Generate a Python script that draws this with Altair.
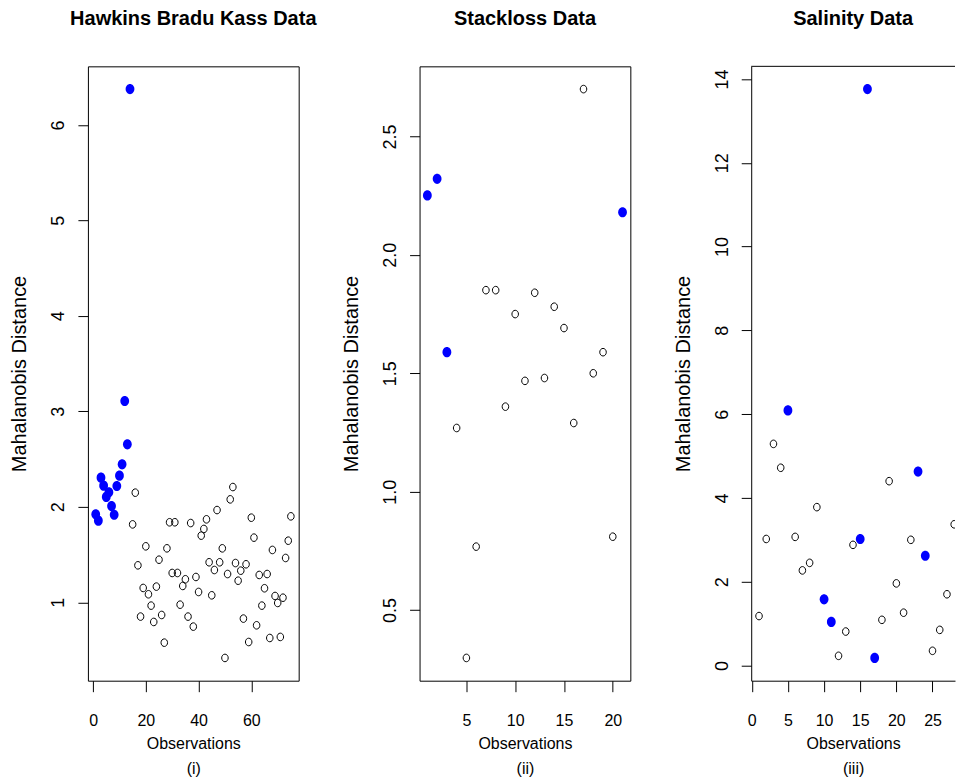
import altair as alt
import pandas as pd

# ---------------- data ----------------
hbk_md = [1.921, 1.855, 2.305, 2.221, 2.103, 2.152, 2.008, 1.917, 2.218, 2.326,
          2.445, 3.108, 2.654, 6.375, 1.816, 2.148, 1.387, 0.850, 1.150, 1.586,
          1.084, 0.965, 0.794, 1.164, 1.446, 0.867, 0.577, 1.565, 1.838, 1.307,
          1.838, 1.307, 0.975, 1.171, 1.241, 0.850, 1.830, 0.745, 1.265, 1.108,
          1.698, 1.768, 1.869, 1.419, 1.073, 1.338, 1.966, 1.419, 1.565, 0.417,
          1.296, 2.078, 2.207, 1.411, 1.226, 1.331, 0.829, 1.398, 0.584, 1.886,
          1.677, 0.759, 1.286, 0.965, 1.147, 1.296, 0.626, 1.548, 1.066, 0.993,
          0.637, 1.048, 1.464, 1.645, 1.900]
hbk_outliers = [1, 2, 3, 4, 5, 6, 7, 8, 9, 10, 11, 12, 13, 14]

stack_md = [2.251, 2.321, 1.589, 1.269, 0.298, 0.768, 1.851, 1.851, 1.359, 1.750,
            1.468, 1.840, 1.480, 1.781, 1.691, 1.290, 2.700, 1.500, 1.589, 0.810,
            2.180]
stack_outliers = [1, 2, 3, 21]

sal_md = [1.18, 3.02, 5.29, 4.72, 6.09, 3.07, 2.27, 2.45, 3.78, 1.58,
          1.04, 0.23, 0.81, 2.88, 3.02, 13.76, 0.18, 1.09, 4.40, 1.96,
          1.26, 3.00, 4.63, 2.62, 0.35, 0.85, 1.70, 3.37]
sal_outliers = [5, 10, 11, 15, 16, 17, 23, 24]

titles = ["Hawkins Bradu Kass Data", "Stackloss Data", "Salinity Data"]
subs = ["(i)", "(ii)", "(iii)"]
x_ticks = [[0, 20, 40, 60], [5, 10, 15, 20], [0, 5, 10, 15, 20, 25]]
y_ticks = [[1, 2, 3, 4, 5, 6], [0.5, 1.0, 1.5, 2.0, 2.5],
           [0, 2, 4, 6, 8, 10, 12, 14]]
y_formats = ["d", ".1f", "d"]

FONT = "Liberation Sans"
ELLIPSE = "M -0.86 0 A 0.86 1 0 1 0 0.86 0 A 0.86 1 0 1 0 -0.86 0 Z"
PANEL_W = 211
PANEL_H = 615
LAST_VISIBLE_W = 204   # the third panel runs off the right edge of the page


def r_range(vals):
    lo, hi = min(vals), max(vals)
    ext = 0.04 * (hi - lo)
    return [lo - ext, hi + ext]


def panel(values, outliers, title, sub, xt, yt, yfmt, visible_w=PANEL_W):
    n = len(values)
    obs = list(range(1, n + 1))
    df = pd.DataFrame({"obs": obs, "md": values})
    df["out"] = df["obs"].isin(outliers)
    xlo, xhi = r_range(obs)
    xhi_vis = xlo + (xhi - xlo) * visible_w / PANEL_W
    cut = visible_w < PANEL_W
    x = alt.X("obs:Q",
              scale=alt.Scale(domain=[xlo, xhi_vis], nice=False, zero=False),
              axis=alt.Axis(values=xt, title=["Observations", sub],
                            labelFontSize=16, labelFont=FONT, labelColor="black",
                            tickColor="black", tickSize=11, labelPadding=21,
                            labelFlush=False, labelOverlap=False,
                            titleFont=FONT, titleFontSize=16,
                            titleFontWeight="normal", titleColor="black",
                            titlePadding=7, titleLineHeight=25,
                            domain=cut, domainColor="black", domainWidth=1,
                            grid=False))
    y = alt.Y("md:Q",
              scale=alt.Scale(domain=r_range(values), nice=False, zero=False),
              axis=alt.Axis(values=yt, format=yfmt, title="Mahalanobis Distance",
                            labelFontSize=18, labelFont=FONT, labelColor="black",
                            labelAngle=-90, labelAlign="center",
                            labelBaseline="bottom",
                            tickColor="black", tickSize=10, labelPadding=10,
                            labelFlush=False, labelOverlap=False,
                            titleFont=FONT, titleFontSize=20,
                            titleFontWeight="normal", titleColor="black",
                            titlePadding=20,
                            domain=cut, domainColor="black", domainWidth=1,
                            grid=False))
    base = alt.Chart(df)
    blue = base.transform_filter("datum.out").mark_point(
        shape=ELLIPSE, filled=True, color="#0000FF", opacity=1, size=104,
        clip=True
    ).encode(x=x, y=y)
    opn = base.transform_filter("!datum.out").mark_point(
        shape=ELLIPSE, filled=False, stroke="black", strokeWidth=1,
        opacity=1, size=58, clip=True
    ).encode(x=x, y=y)
    layers = [blue, opn]
    props = dict(
        width=visible_w, height=PANEL_H,
        title=alt.TitleParams(title, font=FONT, fontSize=20, fontWeight="bold",
                              color="black", anchor="middle", offset=37))
    if cut:
        top_edge = alt.Chart(df.head(1)).mark_rule(
            color="black", strokeWidth=1
        ).encode(y=alt.value(0), x=alt.value(0), x2=alt.value(visible_w))
        layers.append(top_edge)
        props["view"] = alt.ViewBackground(stroke=None)
    return alt.layer(*layers).properties(**props)


p1 = panel(hbk_md, hbk_outliers, titles[0], subs[0], x_ticks[0], y_ticks[0], y_formats[0])
p2 = panel(stack_md, stack_outliers, titles[1], subs[1], x_ticks[1], y_ticks[1], y_formats[1])
p3 = panel(sal_md, sal_outliers, titles[2], subs[2], x_ticks[2], y_ticks[2], y_formats[2],
           visible_w=LAST_VISIBLE_W)

chart = alt.hconcat(p1, p2, p3, spacing=121, bounds="flush").configure(
    background="white",
    padding={"left": 9, "top": 8, "right": 0, "bottom": 0},
).configure_view(stroke="black", strokeWidth=1)

chart.save("out.html", embed_options={"renderer": "svg", "actions": False})
